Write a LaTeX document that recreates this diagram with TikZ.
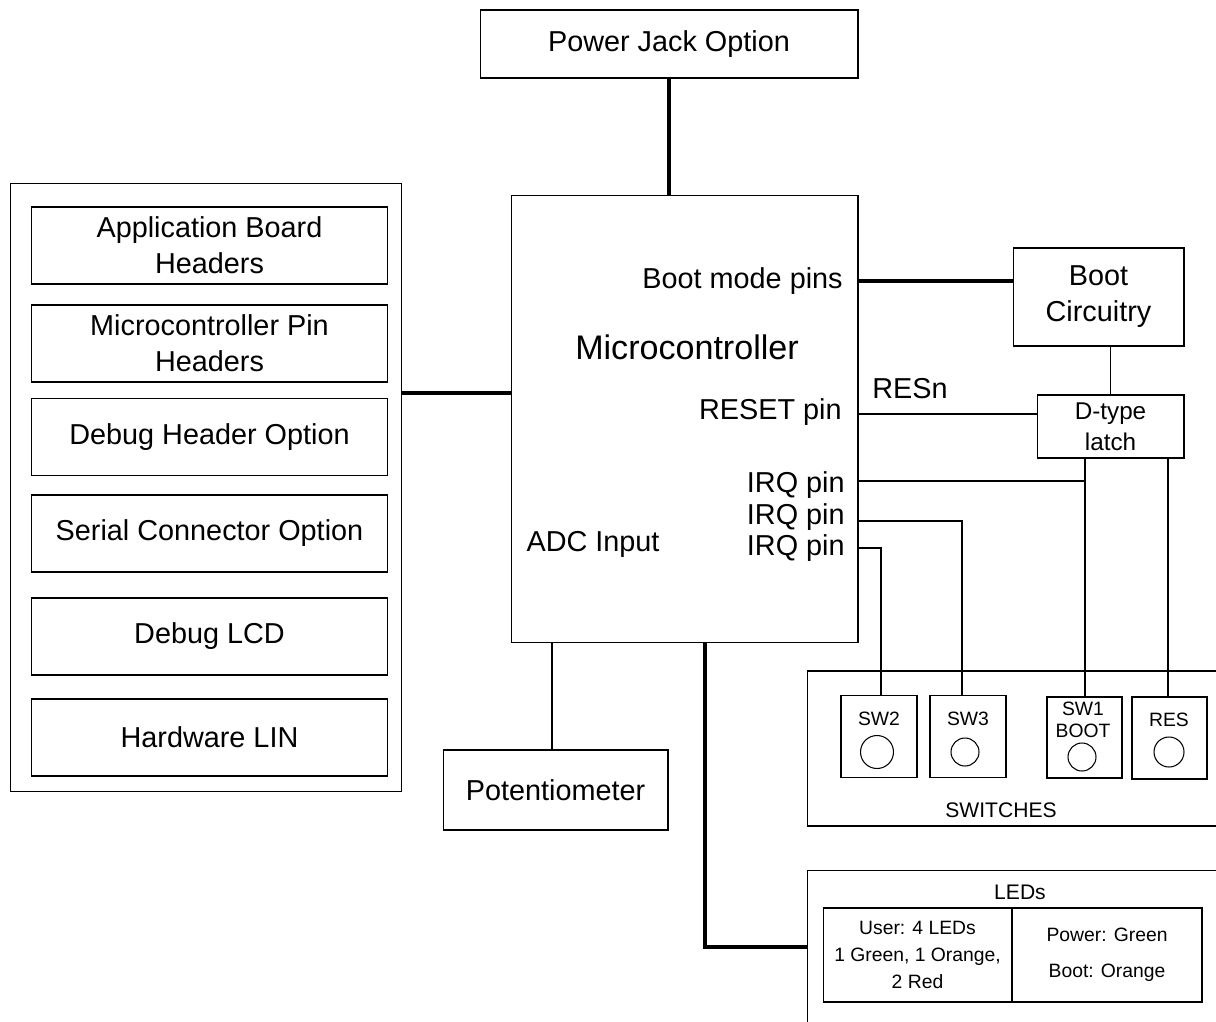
\documentclass[tikz,border=0pt]{standalone}
\usepackage{fontspec}
\setmainfont{Liberation Sans}
\usepackage{tikz}
\newcommand{\bigtxt}{\fontsize{16.4}{20.5}\selectfont}
\newcommand{\mcutxt}{\fontsize{19.4}{23}\selectfont}
\newcommand{\midtxt}{\fontsize{13.8}{17.5}\selectfont}
\newcommand{\smalltxt}{\fontsize{11}{15.3}\selectfont}
\newcommand{\swtxt}{\fontsize{12}{14}\selectfont}

\begin{document}
\begin{tikzpicture}[x=0.02cm,y=-0.02cm,
  box/.style={draw,line width=0.6pt,inner sep=0pt,align=center,font=\bigtxt},
  hdrbox/.style={box,minimum width=7.14cm,minimum height=1.54cm},
  swbox/.style={draw,line width=0.7pt,inner sep=0pt,minimum width=1.52cm,minimum height=1.64cm},
  knob/.style={draw,line width=0.6pt,circle,inner sep=0pt,minimum size=0.6cm},
  pinlbl/.style={inner sep=0pt,font=\bigtxt,anchor=east},
  lbl/.style={inner sep=0pt,font=\bigtxt},
  wire/.style={line width=0.9pt},
  bus/.style={line width=2.6pt}]
\useasboundingbox (0,0) rectangle (1216,1021);

% top and centre
\node[box,minimum width=7.56cm,minimum height=1.36cm] (pjack) at (669,44) {Power Jack Option};
\node[box,minimum width=6.94cm,minimum height=8.96cm] (mcu) at (684.5,419) {};
\node[lbl,font=\mcutxt] (mcutitle) at (687,347) {Microcontroller};
\node[pinlbl] (bootpins) at (843,281) {Boot mode pins};
\node[pinlbl] (resetpin) at (842,412) {RESET pin};
\node[pinlbl] (irq1) at (845,485) {IRQ pin};
\node[pinlbl] (irq2) at (845,517) {IRQ pin};
\node[pinlbl] (irq3) at (845,548) {IRQ pin};
\node[lbl] (adc) at (593,544) {ADC Input};
\node[box,minimum width=4.5cm,minimum height=1.6cm] (pot) at (555.5,790) {Potentiometer};

% header stack on the left
\node[box,minimum width=7.84cm,minimum height=12.18cm] (hdr) at (206,487.5) {};
\node[hdrbox] (appboard) at (209.5,245.5) {Application Board\\Headers};
\node[hdrbox] (pinhdr) at (209.5,343.5) {Microcontroller Pin\\Headers};
\node[hdrbox] (dbghdr) at (209.5,437) {Debug Header Option};
\node[hdrbox] (serial) at (209.5,533.5) {Serial Connector Option};
\node[hdrbox] (dbglcd) at (209.5,636.5) {Debug LCD};
\node[hdrbox] (linhw) at (209.5,737.5) {Hardware LIN};

% boot and reset
\node[box,minimum width=3.42cm,minimum height=1.96cm] (boot) at (1098.5,297) {Boot\\Circuitry};
\node[box,font=\midtxt,minimum width=2.94cm,minimum height=1.26cm] (latch) at (1110.5,426.5) {D-type\\latch};
\node[lbl] (resn) at (910,389) {RESn};

% switches
\node[box,minimum width=8.46cm,minimum height=3.1cm] (switches) at (1018.5,748.5) {};
\node[inner sep=0pt,font=\swtxt] (swtitle) at (1001,810) {SWITCHES};
\node[swbox] (sw2) at (879,736.5) {};
\node[inner sep=0pt,font=\smalltxt] (sw2t) at (879,719) {SW2};
\node[knob,minimum size=0.66cm] (sw2k) at (877,752) {};
\node[swbox] (sw3) at (968,736.5) {};
\node[inner sep=0pt,font=\smalltxt] (sw3t) at (968,719) {SW3};
\node[knob,minimum size=0.56cm] (sw3k) at (965,752) {};
\node[swbox,minimum width=1.5cm,minimum height=1.62cm] (sw1) at (1084.5,737.5) {};
\node[inner sep=0pt,font=\smalltxt,align=center] (sw1t) at (1083,720) {SW1\\[-3pt]BOOT};
\node[knob,minimum size=0.56cm] (sw1k) at (1082,757) {};
\node[swbox,minimum width=1.5cm,minimum height=1.64cm] (res) at (1169.5,738) {};
\node[inner sep=0pt,font=\smalltxt] (rest) at (1169,720) {RES};
\node[knob,minimum size=0.6cm] (resk) at (1169,752) {};

% LEDs
\node[box,minimum width=8.46cm,minimum height=3.3cm] (leds) at (1018.5,952.5) {};
\node[inner sep=0pt,font=\swtxt] (ledtitle) at (1020,892) {LEDs};
\node[box,font=\smalltxt,minimum width=3.78cm,minimum height=1.88cm] (userled) at (917.5,955) {User: 4 LEDs\\1 Green, 1 Orange,\\2 Red};
\node[box,font=\smalltxt,minimum width=3.8cm,minimum height=1.88cm] (sysled) at (1107,955) {Power: Green\\[5pt]Boot: Orange};

% connections
\coordinate (hlink) at (402,393);
\coordinate (ledbus) at (705,947);
\coordinate (irqj) at (1085,481);
\coordinate (irqb) at (962,521);
\coordinate (irqc) at (881,548);
\draw[bus] (pjack.south) -- (pjack.south |- mcu.north);
\draw[bus] (bootpins.east -| mcu.east) -- (bootpins.east -| boot.west);
\draw[bus] (hdr.east |- hlink) -- (mcu.west |- hlink);
\draw[bus] (mcu.south -| ledbus) -- (ledbus) -- (leds.west |- ledbus);
\draw[wire] (pot.north -| 552,0) -- (mcu.south -| 552,0);
\draw[wire] (boot.south -| latch) -- (latch.north);
\draw[wire] (mcu.east |- 0,414) -- (latch.west |- 0,414);
\draw[wire] (mcu.east |- irqj) -- (irqj);
\draw[wire] (latch.south -| irqj) -- (sw1.north -| irqj);
\draw[wire] (latch.south -| 1168,0) -- (res.north -| 1168,0);
\draw[wire] (mcu.east |- irqb) -- (irqb) -- (sw3.north -| irqb);
\draw[wire] (mcu.east |- irqc) -- (irqc) -- (sw2.north -| irqc);
\end{tikzpicture}
\end{document}
